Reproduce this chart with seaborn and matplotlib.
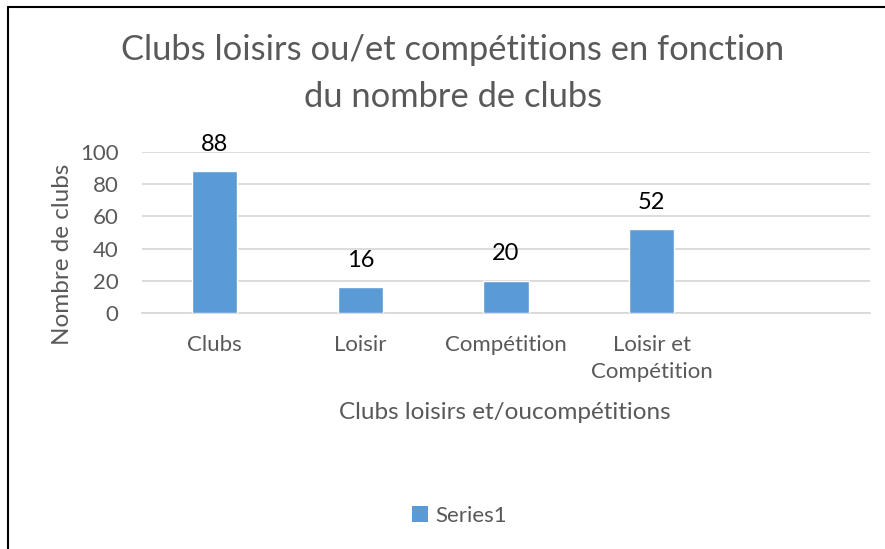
import matplotlib
matplotlib.use("Agg")
import matplotlib.pyplot as plt
import numpy as np
import pandas as pd
import seaborn as sns
from matplotlib.lines import Line2D
from matplotlib.patches import Patch

categories = ["Clubs", "Loisir", "Compétition", "Loisir et\nCompétition"]
values = [88, 16, 20, 52]
n_slots = 5  # Excel axis keeps an empty fifth slot
y_ticks = [0, 20, 40, 60, 80, 100]

BAR_COLOR = "#5B9BD5"
TEXT_GREY = "#595959"
GRID_GREY = "#D9D9D9"

sns.set_theme(style="white")
plt.rcParams["font.family"] = ["Lato", "DejaVu Sans"]

df = pd.DataFrame({"categorie": categories, "nombre": values})

fig = plt.figure(figsize=(8.85, 5.49), dpi=100)
ax = fig.add_axes([142 / 885, 1 - 313 / 549, 728 / 885, 161 / 549])

sns.barplot(data=df, x="categorie", y="nombre", color=BAR_COLOR,
            width=0.31, saturation=1, ax=ax, zorder=3)

ax.set_xlim(-0.5, n_slots - 0.5)
ax.set_ylim(0, 100)
ax.set_yticks(y_ticks)
ax.set_yticklabels([str(t) for t in y_ticks], fontsize=16, color=TEXT_GREY)
ax.yaxis.grid(True, color=GRID_GREY, linewidth=1.3, zorder=0)
ax.set_axisbelow(True)

ax.set_xticks(range(len(categories)))
ax.set_xticklabels(categories, fontsize=16, color=TEXT_GREY, linespacing=1.45)
ax.set_xticks(np.arange(-0.5, n_slots, 1.0), minor=True)
ax.tick_params(axis="x", which="major", length=0, pad=16)
ax.tick_params(axis="x", which="minor", length=6, width=1.3, color=GRID_GREY, direction="out")
ax.tick_params(axis="y", length=0, pad=17)

for side in ["top", "right", "left"]:
    ax.spines[side].set_visible(False)
ax.spines["bottom"].set_color(GRID_GREY)
ax.spines["bottom"].set_linewidth(1.3)

for i, v in enumerate(values):
    ax.annotate(str(v), (i, v), xytext=(0, 12), textcoords="offset points",
                ha="center", va="bottom", fontsize=17, color="black")

ax.set_xlabel("Clubs loisirs et/oucompétitions", fontsize=17.5, color=TEXT_GREY)
ax.xaxis.set_label_coords((505 - 142) / 728, -(412 - 313) / 161)
ax.xaxis.label.set_va("center")
ax.set_ylabel("Nombre de clubs", fontsize=17.5, color=TEXT_GREY)
ax.yaxis.set_label_coords(-(142 - 62) / 728, (313 - 254) / 161)
ax.yaxis.label.set_va("center")

fig.text(453 / 885, 1 - 50 / 549, "Clubs loisirs ou/et compétitions en fonction",
         ha="center", va="center", fontsize=24.8, color=TEXT_GREY)
fig.text(453 / 885, 1 - 97 / 549, "du nombre de clubs",
         ha="center", va="center", fontsize=24.8, color=TEXT_GREY)

handles = [Patch(facecolor=BAR_COLOR, edgecolor="none", label="Series1")]
fig.legend(handles=handles, loc="center", bbox_to_anchor=(459 / 885, 1 - 516 / 549),
           frameon=False, fontsize=16, handlelength=0.75, handleheight=0.75,
           handletextpad=0.3, labelcolor=TEXT_GREY)

# chart frame: only top and left edges visible in the crop
fig.add_artist(Line2D([8 / 885, 8 / 885], [0, 1 - 7 / 549], transform=fig.transFigure,
                      color="black", linewidth=1.5))
fig.add_artist(Line2D([8 / 885, 1], [1 - 7 / 549, 1 - 7 / 549], transform=fig.transFigure,
                      color="black", linewidth=1.5))

fig.savefig("out.png", dpi=100, facecolor="white")
